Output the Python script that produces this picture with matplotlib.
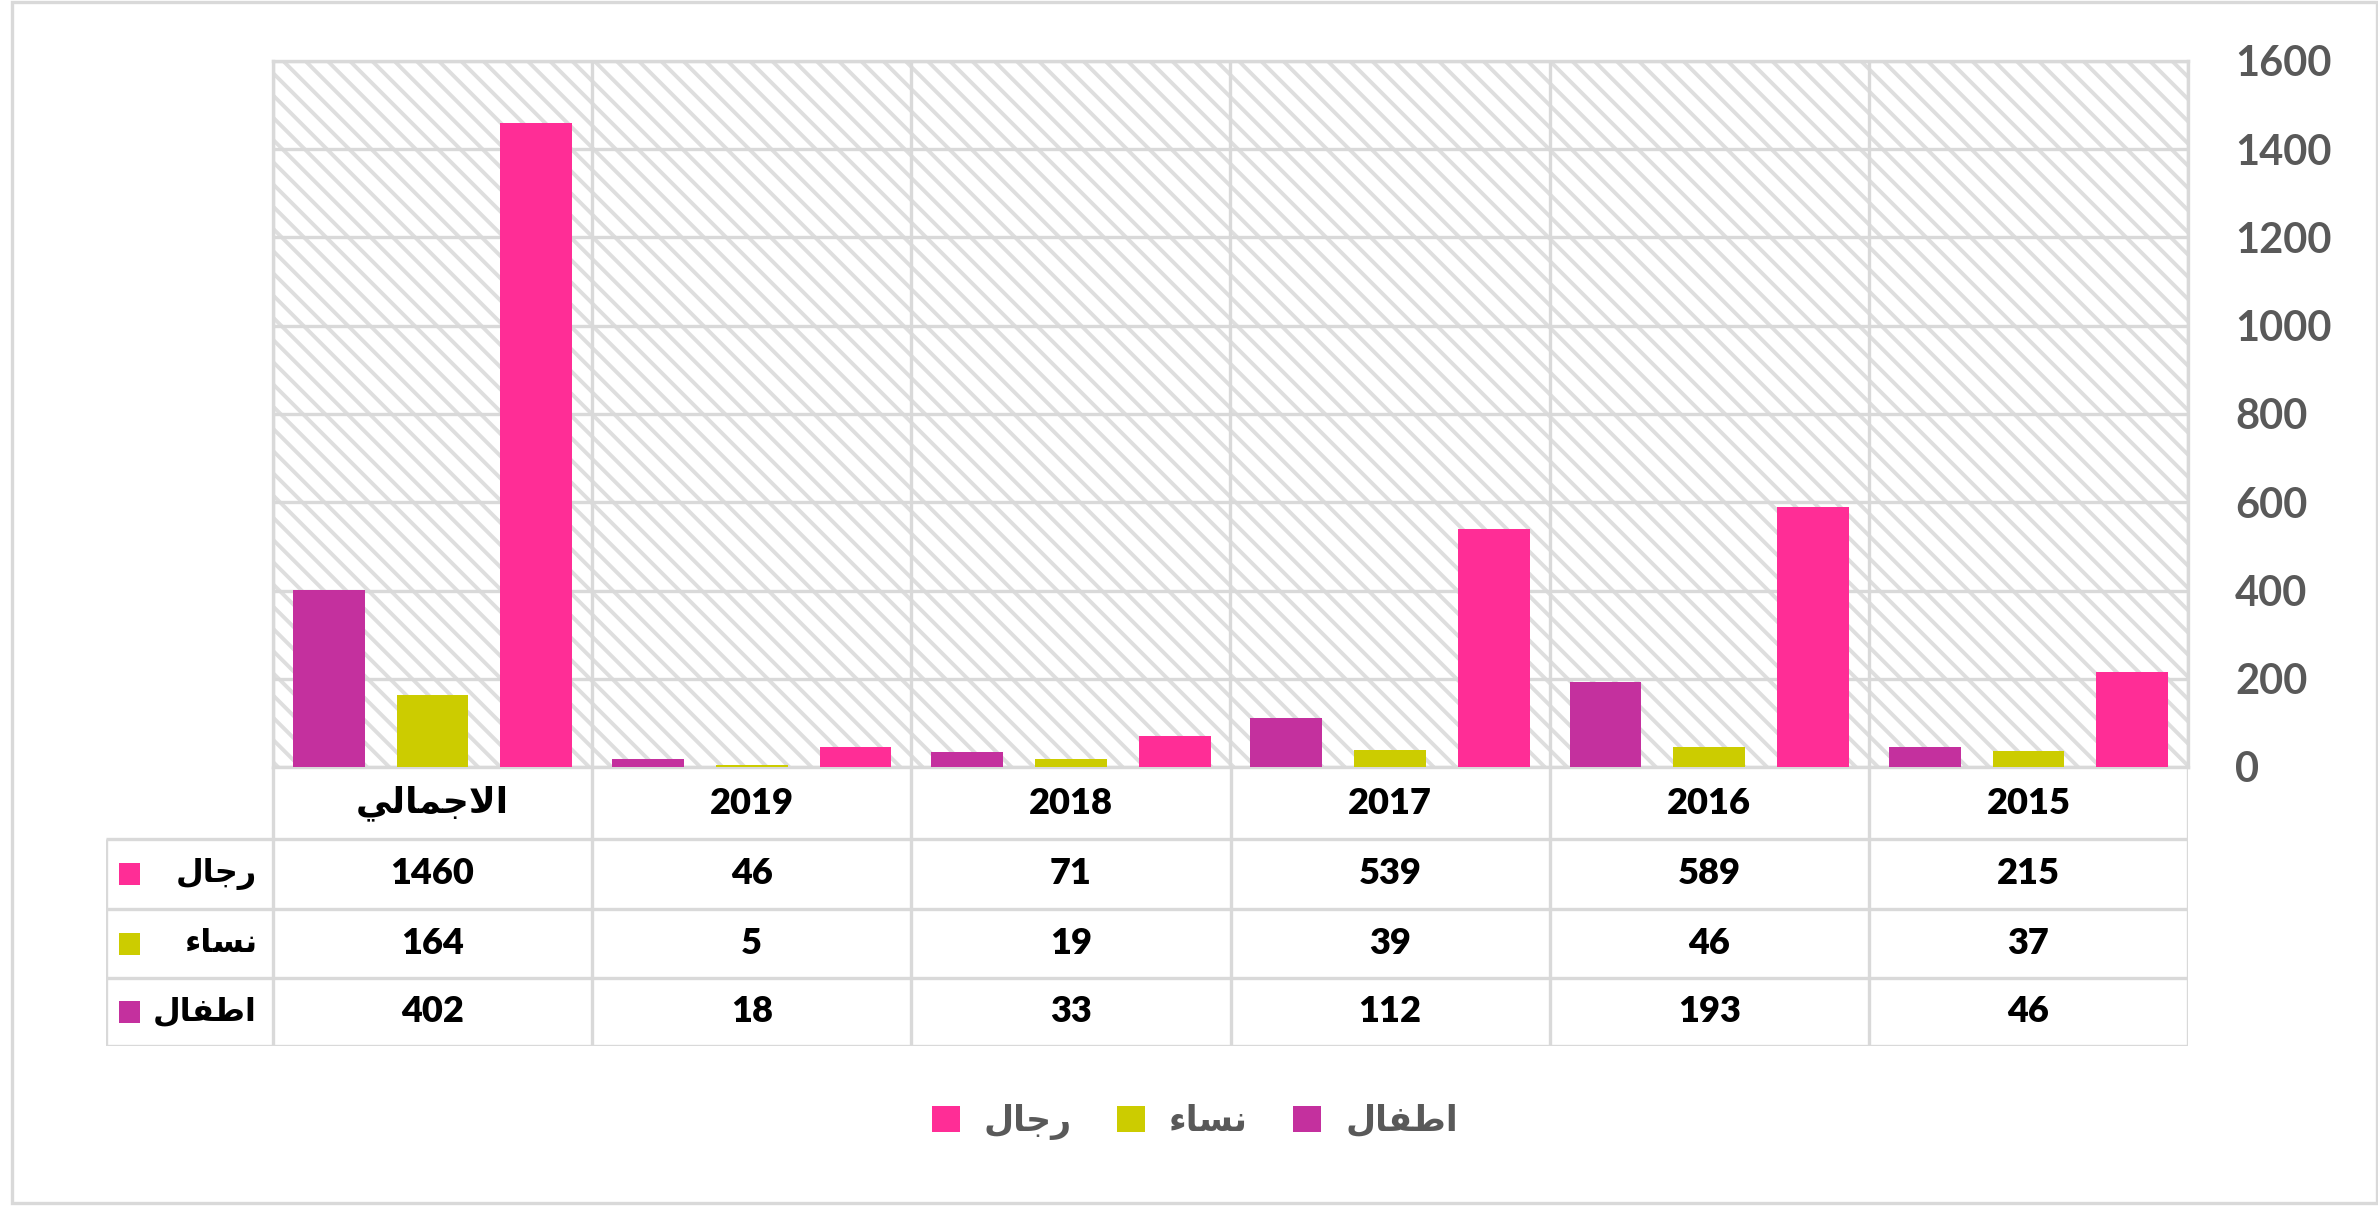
import matplotlib
matplotlib.use("Agg")
import matplotlib.pyplot as plt
from matplotlib.patches import Rectangle
import numpy as np

# matplotlib has no arabic shaping, so labels are given in presentation forms, visual order
lbl_total = "\uFEF2\uFEDF\uFE8E\uFEE4\uFE9F\uFEFB\uFE8D"   # الاجمالي
lbl_men = "\uFEDD\uFE8E\uFE9F\uFEAD"                       # رجال
lbl_women = "\uFE80\uFE8E\uFEB4\uFEE7"                     # نساء
lbl_kids = "\uFEDD\uFE8E\uFED4\uFEC3\uFE8D"                # اطفال

categories = [lbl_total, "2019", "2018", "2017", "2016", "2015"]
men = [1460, 46, 71, 539, 589, 215]
women = [164, 5, 19, 39, 46, 37]
kids = [402, 18, 33, 112, 193, 46]

series = [(lbl_kids, kids, "#C4309E"), (lbl_women, women, "#CCCC00"), (lbl_men, men, "#FF2D96")]
table_rows = [(lbl_men, men, "#FF2D96"), (lbl_women, women, "#CCCC00"), (lbl_kids, kids, "#C4309E")]

W, H, DPI = 2378, 1207, 200
grid_c = "#d9d9d9"
num_font = "Lato"
ar_font = ["DejaVu Sans"]
plt.rcParams["hatch.linewidth"] = 1.4

fig = plt.figure(figsize=(W / DPI, H / DPI), dpi=DPI)
fig.patches.append(Rectangle((12 / W, 4 / H), (W - 13) / W, (H - 6) / H, transform=fig.transFigure,
                             fill=False, edgecolor=grid_c, linewidth=1.2))

# pixel geometry
px_left, px_right, px_top, px_zero = 273, 2188, 61, 767
px_hdr = 106
row_px = [767, 839, 909, 978, 1046]

ax = fig.add_axes([px_left / W, (H - px_zero) / H, (px_right - px_left) / W, (px_zero - px_top) / H])
n = len(categories)
x = np.arange(n)
ax.set_xlim(-0.5, n - 0.5)
ax.set_ylim(0, 1600)

# hatched background
ax.add_patch(Rectangle((0, 0), 1, 1, transform=ax.transAxes, facecolor="white", edgecolor="#dedede",
                       linewidth=0, hatch="\\\\\\", zorder=0))

offs = [-0.325, 0.0, 0.325]
bw = 0.225
for (name, vals, col), o in zip(series, offs):
    ax.bar(x + o, vals, width=bw, color=col, label=name, zorder=3)

ax.set_yticks(np.arange(0, 1601, 200))
ax.yaxis.tick_right()
ax.tick_params(axis="y", length=0, pad=17, labelsize=15, labelcolor="#595959")
for t in ax.get_yticklabels():
    t.set_fontfamily(num_font)
    t.set_fontweight("bold")
ax.set_xticks(np.arange(-0.5, n, 1.0))
ax.set_xticklabels([])
ax.tick_params(axis="x", length=0)
ax.grid(True, color=grid_c, linewidth=1.2, zorder=1)
ax.set_axisbelow(True)
for s in ax.spines.values():
    s.set_color(grid_c)
    s.set_linewidth(1.2)

# data table below the plot
hw = (px_left - px_hdr) / (px_right - px_left) * n
tax = fig.add_axes([px_hdr / W, (H - row_px[-1]) / H, (px_right - px_hdr) / W, (row_px[-1] - row_px[0]) / H])
tax.set_xlim(-0.5 - hw, n - 0.5)
tax.set_ylim(row_px[-1] - row_px[0], 0)
tax.axis("off")
ys = [r - row_px[0] for r in row_px]
lk = dict(color=grid_c, linewidth=1.2, solid_capstyle="butt")
for y in ys[1:]:
    tax.plot([-0.5 - hw, n - 0.5], [y, y], **lk)
for xb in np.arange(-0.5, n, 1.0):
    tax.plot([xb, xb], [0, ys[-1]], **lk)
tax.plot([-0.5 - hw, -0.5 - hw], [ys[1], ys[-1]], **lk)

for i, c in enumerate(categories):
    fam = ar_font if c == lbl_total else num_font
    tax.text(i, (ys[0] + ys[1]) / 2, c, ha="center", va="center", fontsize=13,
             fontweight="heavy", family=fam)
for r, (name, vals, col) in enumerate(table_rows):
    yc = (ys[r + 1] + ys[r + 2]) / 2
    for i, v in enumerate(vals):
        tax.text(i, yc, str(v), ha="center", va="center", fontsize=13, fontweight="heavy", family=num_font)
    tax.text(-0.5 - 0.05, yc, name, ha="right", va="center", fontsize=11.5, fontweight="bold",
             family=ar_font)
    tax.add_patch(Rectangle((-0.5 - hw + 0.04, yc - 11), 0.065, 22, facecolor=col, edgecolor="none"))

handles = [h for h in ax.containers]
leg = fig.legend([handles[2], handles[1], handles[0]], [lbl_men, lbl_women, lbl_kids], ncol=3,
                 loc="center", bbox_to_anchor=(1195 / W, 1 - 1122 / H), frameon=False,
                 handlelength=0.8, handleheight=0.8, handletextpad=0.7, columnspacing=1.3,
                 prop=dict(family=ar_font, weight="bold", size=12.5))
for t in leg.get_texts():
    t.set_color("#595959")

fig.savefig("out.png", dpi=DPI)
